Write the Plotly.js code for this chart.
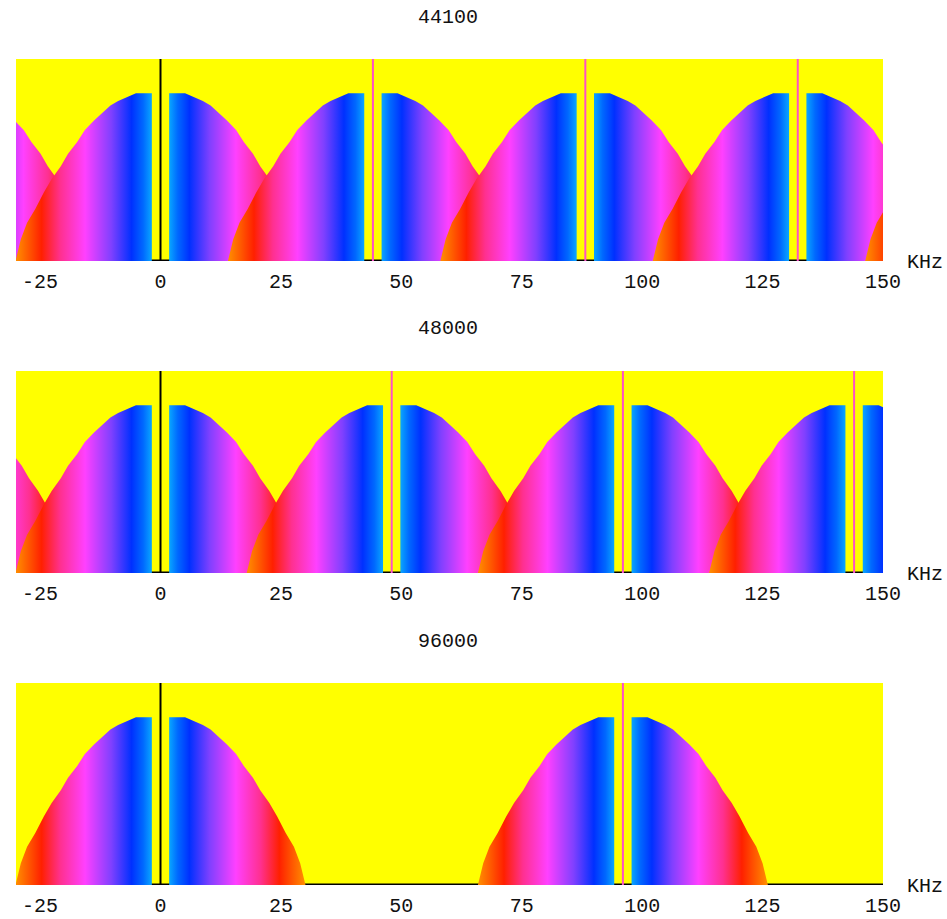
<!DOCTYPE html>
<html>
<head>
<meta charset="utf-8">
<script src="https://cdn.plot.ly/plotly-3.0.1.min.js"></script>
<style>
html,body{margin:0;padding:0;background:#ffffff;}
#chart{width:947px;height:919px;}
</style>
</head>
<body>
<div id="chart"></div>
<script>
// ---- data ----
const sampleRates = [44100, 48000, 96000];          // Hz, one panel each
const panelTitles = ['44100', '48000', '96000'];
// baseband spectrum envelope (one side), offset from image centre in kHz
const envOffset = [1.8, 1.8, 5.1, 6.9, 8.8, 10.4, 12.3, 13.8, 15.7, 17.3, 19.2, 20.7, 22.6, 24.2, 26.0, 27.7, 29.0, 30.1];
const envLevel  = [0,   1.0, 1.0, 0.978, 0.955, 0.928, 0.878, 0.838, 0.782, 0.71, 0.64, 0.565, 0.489, 0.41, 0.31, 0.228, 0.13, 0];
const imageIndex = [-1, 0, 1, 2, 3, 4];              // spectral images k*fs
const tickVals = [-25, 0, 25, 50, 75, 100, 125, 150];
const tickText = ['-25', '0', '25', '50', '75', '100', '125', '150'];
const axisLabel = 'KHz';
// colour along |f - k*fs|, centre (0) to outer edge (1)
const spectrumStops = [
  [0.00, '#00b8ff'], [0.066, '#08a0ff'], [0.12, '#0068ff'], [0.20, '#0030ff'],
  [0.34, '#8040ff'], [0.52, '#ff40ff'], [0.69, '#ff3090'], [0.82, '#ff2000'], [1.00, '#ff9000']
];

// ---- layout constants ----
const X_RANGE = [-30, 150];
const Y_RANGE = [0, 1.205];
const PLOT_H = 826, PANEL_H = 202, PANEL_STEP = 312;
const FONT = 'Liberation Mono, Courier New, monospace';
const outer = envOffset[envOffset.length - 1];
const leftStops = spectrumStops.map(s => [1 - s[0], s[1]]).reverse();

const traces = [];
const shapes = [];
const annotations = [];
const layout = {
  width: 947, height: 919,
  margin: {l: 16, r: 64, t: 59, b: 34},
  paper_bgcolor: '#ffffff',
  plot_bgcolor: '#ffff00',
  showlegend: false,
  font: {family: FONT, size: 20, color: '#000'}
};

sampleRates.forEach((sr, p) => {
  const fs = sr / 1000;
  const n = p === 0 ? '' : String(p + 1);
  const xa = 'x' + n, ya = 'y' + n;
  const top = 1 - p * PANEL_STEP / PLOT_H;
  const bottom = top - PANEL_H / PLOT_H;

  layout['xaxis' + n] = {
    range: X_RANGE, anchor: ya, domain: [0, 1],
    showgrid: false, zeroline: false, showline: false, ticks: '',
    tickmode: 'array', tickvals: tickVals, ticktext: tickText,
    tickfont: {family: FONT, size: 20, color: '#111'},
    ticklabelstandoff: 6, fixedrange: true
  };
  layout['yaxis' + n] = {
    range: Y_RANGE, domain: [bottom, top], anchor: xa,
    showgrid: false, zeroline: false, showline: false, showticklabels: false, ticks: '',
    fixedrange: true
  };

  imageIndex.forEach(k => {
    const c = k * fs;
    if (c + outer < X_RANGE[0] - 1 || c - outer > X_RANGE[1] + 1) return;
    // left lobe
    traces.push({
      type: 'scatter', mode: 'lines', xaxis: xa, yaxis: ya,
      x: envOffset.map(o => c - o), y: envLevel,
      fill: 'toself', line: {width: 0, color: 'rgba(0,0,0,0)'},
      fillgradient: {type: 'horizontal', start: c - outer, stop: c, colorscale: leftStops},
      hoverinfo: 'skip'
    });
    // right lobe
    traces.push({
      type: 'scatter', mode: 'lines', xaxis: xa, yaxis: ya,
      x: envOffset.map(o => c + o), y: envLevel,
      fill: 'toself', line: {width: 0, color: 'rgba(0,0,0,0)'},
      fillgradient: {type: 'horizontal', start: c, stop: c + outer, colorscale: spectrumStops},
      hoverinfo: 'skip'
    });
  });

  // baseline (under the spectra)
  shapes.push({type: 'line', layer: 'below', xref: xa, yref: ya,
    x0: X_RANGE[0], x1: X_RANGE[1], y0: 0, y1: 0, line: {color: '#000', width: 3}});
  // vertical axis at 0
  shapes.push({type: 'line', layer: 'above', xref: xa, yref: ya + ' domain',
    x0: 0, x1: 0, y0: 0, y1: 1, line: {color: '#000', width: 2}});
  // sample-rate multiples
  imageIndex.filter(k => k > 0).forEach(k => {
    const c = k * fs;
    if (c > X_RANGE[1]) return;
    shapes.push({type: 'line', layer: 'above', xref: xa, yref: ya + ' domain',
      x0: c, x1: c, y0: 0, y1: 1, line: {color: '#ff50c8', width: 2}});
  });

  annotations.push({
    text: panelTitles[p], xref: 'paper', yref: 'paper', x: 0.5, y: top,
    xanchor: 'center', yanchor: 'middle', yshift: 42, xshift: -2, showarrow: false,
    font: {family: FONT, size: 20, color: '#111'}
  });
  annotations.push({
    text: axisLabel, xref: xa, yref: ya, x: X_RANGE[1], y: 0,
    xanchor: 'left', yanchor: 'middle', xshift: 22, yshift: -1, showarrow: false,
    font: {family: FONT, size: 20, color: '#111'}
  });
});

layout.shapes = shapes;
layout.annotations = annotations;

Plotly.newPlot('chart', traces, layout, {staticPlot: true, displayModeBar: false});
</script>
</body>
</html>
